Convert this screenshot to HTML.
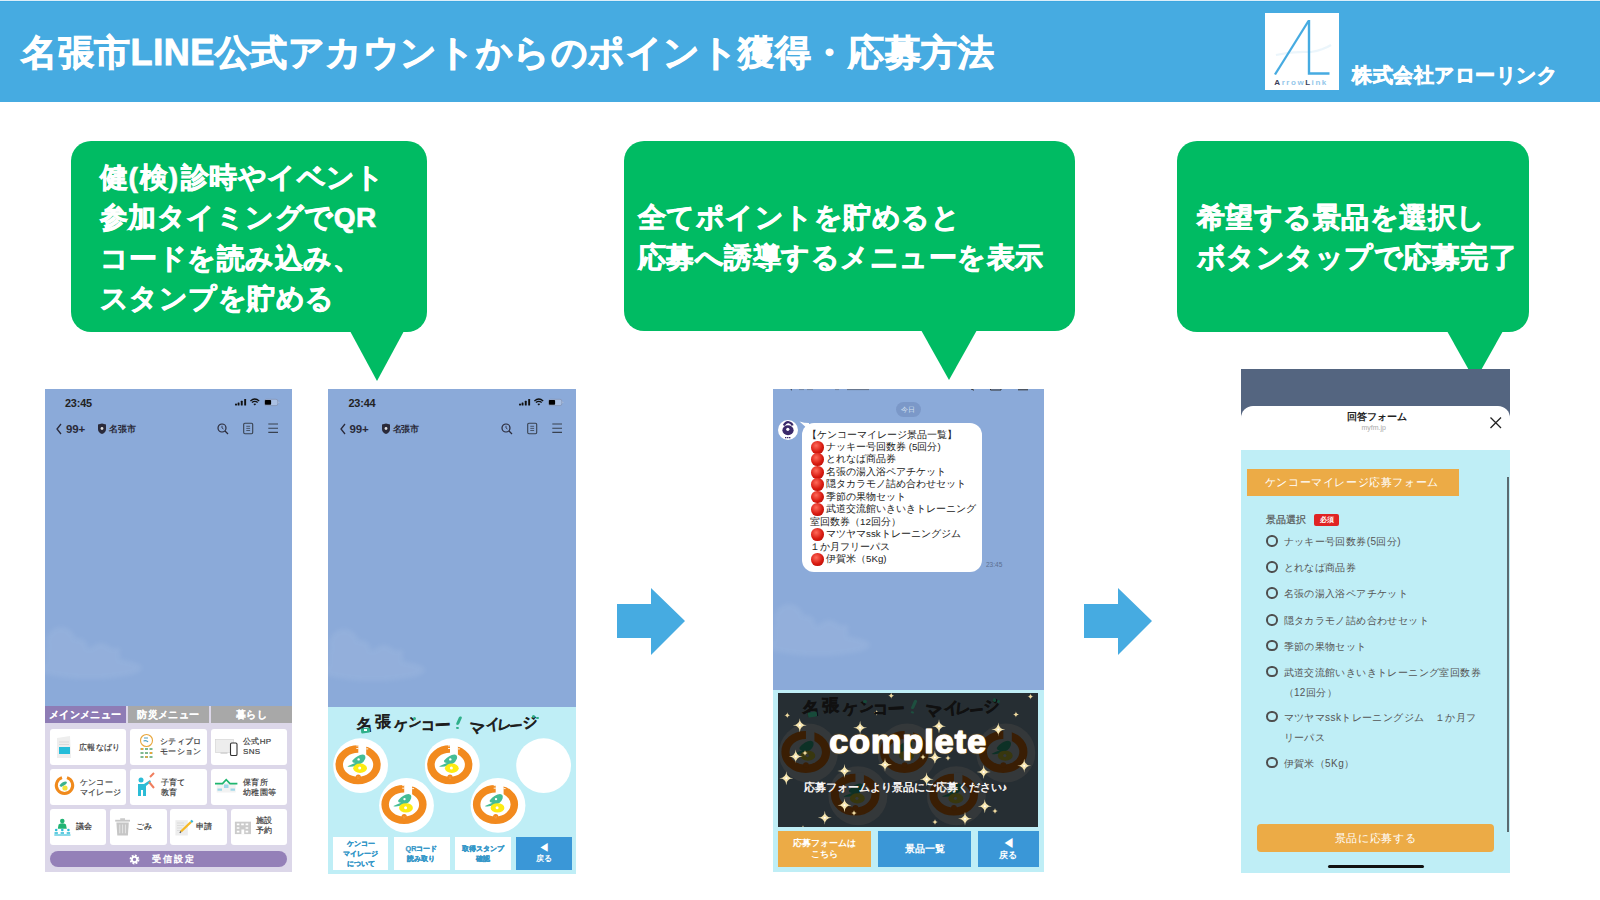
<!DOCTYPE html>
<html lang="ja">
<head>
<meta charset="utf-8">
<style>
*{margin:0;padding:0;box-sizing:border-box}
html,body{width:1600px;height:900px;overflow:hidden;background:#fff}
body{position:relative;font-family:"Liberation Sans",sans-serif}
.abs{position:absolute}
#hdr{left:0;top:0;width:1600px;height:102px;background:#46ABE1}
#title{left:21px;top:27px;font-size:36px;letter-spacing:0.54px;font-weight:bold;color:#fff;white-space:nowrap;line-height:52px;-webkit-text-stroke:0.9px #fff}
#logo{left:1265px;top:13px;width:74px;height:77px;background:#fff}
#corp{left:1352px;top:61px;font-size:20px;letter-spacing:0.5px;font-weight:bold;color:#fff;white-space:nowrap;line-height:28px;-webkit-text-stroke:0.7px #fff}
.bub{background:#00BB63;border-radius:20px}
.btxt{color:#fff;font-weight:bold;font-size:28px;letter-spacing:0.47px;line-height:40.5px;white-space:nowrap;-webkit-text-stroke:0.7px #fff}
.tail{width:0;height:0;border-style:solid;border-color:#00BB63 transparent transparent transparent}
.phone{background:#8BAAD9;overflow:hidden}

.s{position:absolute;white-space:nowrap}
.st{font-size:10px;font-weight:bold;color:#222;letter-spacing:-0.2px}
.tab{position:absolute;top:317px;height:17px;color:#fff;font-size:10px;font-weight:bold;text-align:center;line-height:17px;letter-spacing:0.3px;-webkit-text-stroke:0.1px #fff}
.card{position:absolute;background:#fff;border-radius:3px;height:36px}
.ct{position:absolute;font-size:8px;letter-spacing:0.35px;color:#3e3e3e;line-height:10px;white-space:nowrap;-webkit-text-stroke:0.2px #3e3e3e}


.btn{position:absolute;text-align:center;font-weight:bold;white-space:nowrap;display:flex;align-items:center;justify-content:center}
.hw{position:absolute;white-space:nowrap;font-weight:bold;color:#1d1d1d}
.rad{position:absolute;left:25px;width:11.5px;height:11.5px;border:2.1px solid #4e4e4e;border-radius:50%}
.rt{position:absolute;left:42.5px;font-size:10px;letter-spacing:0.4px;color:#555;line-height:20px;white-space:nowrap;margin-top:1.3px}
.rd{display:inline-block;width:12.6px;height:12.6px;border-radius:50%;background:radial-gradient(circle at 40% 35%,#ff6a5a,#D81A10 55%,#A80C05);vertical-align:top;margin-top:0px;margin-left:1.3px;margin-right:2.2px}
.msg div{height:12.47px;line-height:12.47px}
</style>
</head>
<body>
<svg width="0" height="0" style="position:absolute">
<defs>
 <filter id="blur1" x="-20%" y="-20%" width="140%" height="140%"><feGaussianBlur stdDeviation="2"/></filter>
 <g id="stamp">
  <ellipse cx="-2.5" cy="-1" rx="18.85" ry="15.75" fill="none" stroke="#F28A1E" stroke-width="7.5"/>
  <rect x="-2.3" y="-22" width="7.9" height="12" fill="#fff"/><path d="M-4.3 -19.8 h2.2 M-4.3 -17.2 h2.2 M5.6 -19.3 h2 M5.6 -16.8 h2" stroke="#fff" stroke-width="0.9"/>
  <path d="M-13 0.6 Q-9 -1.2 -5.5 -2.6 Q-9 -3 -8.2 -5.2 Q-3 -11 2 -11.3 Q5.6 -11 4.6 -7 Q3 -2 -4 -0.3 Q-9 1.6 -13 0.9 Z" fill="#45BD96"/>
  <circle cx="-2" cy="-6.3" r="1.2" fill="#fff"/>
  <ellipse cx="-0.5" cy="2.5" rx="6.9" ry="4.7" fill="#FDEB12"/><circle cx="-0.9" cy="2.4" r="1.5" fill="#fff"/>
  <circle cx="-2.3" cy="11.3" r="2.6" fill="#F28A1E"/><path d="M-3.6 11 h0.8 M-1.8 11 h0.8 M-3.4 12.4 h2.2" stroke="#F9B46A" stroke-width="0.5"/>
 </g>
 <g id="dstamp">
  <circle r="29.5" fill="#34383A"/>
  <g transform="scale(1.076)">
  <ellipse cx="-2.5" cy="-1" rx="18.85" ry="15.75" fill="none" stroke="#3A1E04" stroke-width="7.5"/><rect x="-2.3" y="-22" width="7.9" height="12" fill="#34383A"/>
  <path d="M-13 0.6 Q-9 -1.2 -5.5 -2.6 Q-9 -3 -8.2 -5.2 Q-3 -11 2 -11.3 Q5.6 -11 4.6 -7 Q3 -2 -4 -0.3 Q-9 1.6 -13 0.9 Z" fill="#0D3126"/>
  <ellipse cx="-0.5" cy="2.5" rx="6.9" ry="4.7" fill="#38370E"/><circle cx="-0.9" cy="2.4" r="1.5" fill="#34383A"/>
  <circle cx="-2.3" cy="11.3" r="2.6" fill="#3A1E04"/>
  </g>
 </g>
 <g id="spark"><circle r="3" fill="#F4D98A" opacity="0.3"/><path d="M0 -7 Q0.2 -0.2 7 0 Q0.2 0.2 0 7 Q-0.2 0.2 -7 0 Q-0.2 -0.2 0 -7 Z" fill="#F7E6B0"/><circle r="1" fill="#fff"/></g>
 <g id="sparks"><circle r="1.5" fill="#F4D98A" opacity="0.35"/><path d="M0 -3 Q0.25 -0.25 3 0 Q0.25 0.25 0 3 Q-0.25 0.25 -3 0 Q-0.25 -0.25 0 -3 Z" fill="#EED9A0"/></g>
</defs></svg>
<div id="hdr" class="abs"></div>
<div class="abs" style="left:0;top:0;width:1600px;height:1px;background:#DCEEF9"></div>
<div class="abs" style="left:0;top:1px;width:1600px;height:1px;background:#3DA7E0"></div>
<div id="title" class="abs">名張市LINE公式アカウントからのポイント獲得・応募方法</div>
<div id="logo" class="abs"></div>
<svg class="abs" style="left:1265px;top:13px" width="74" height="77" viewBox="0 0 74 77">
 <path d="M11 42 Q28 38 46 39 Q58 37 66 32" stroke="#E6F2FA" stroke-width="2.2" fill="none" opacity="0.8"/>
 <path d="M10 61.5 L43.5 8" stroke="#46ABE1" stroke-width="2.3" fill="none"/>
 <path d="M44 7 L44 60.5 L64.5 60.5" stroke="#46ABE1" stroke-width="2.4" fill="none" stroke-linejoin="miter"/>
 <text x="9.3" y="71.9" font-family="Liberation Sans" font-size="8" font-weight="bold" letter-spacing="1.55" fill="#94C7EA"><tspan fill="#3B3F5A">A</tspan>rrow<tspan fill="#3B3F5A">L</tspan>ink</text>
</svg>
<div id="corp" class="abs">株式会社アローリンク</div>

<!-- bubbles -->
<div class="abs bub" style="left:71px;top:141px;width:356px;height:191px"></div>
<div class="abs tail" style="left:350px;top:331px;border-width:50px 27px 0 27px"></div>
<div class="abs btxt" style="left:100px;top:157.5px">健<span style="letter-spacing:2.5px">(</span>検<span style="letter-spacing:2.5px">)</span>診時やイベント<br>参加タイミングでQR<br>コードを読み込み、<br>スタンプを貯める</div>

<div class="abs bub" style="left:624px;top:141px;width:451px;height:190px"></div>
<div class="abs tail" style="left:921px;top:330px;border-width:50px 28px 0 28px"></div>
<div class="abs btxt" style="left:638px;top:197.5px">全てポイントを貯めると<br>応募へ誘導するメニューを表示</div>

<div class="abs bub" style="left:1177px;top:141px;width:352px;height:191px"></div>
<div class="abs tail" style="left:1447px;top:331px;border-width:50px 28px 0 28px"></div>
<div class="abs btxt" style="left:1197px;top:197.5px">希望する景品を選択し<br>ボタンタップで応募完了</div>

<!-- phones -->
<div id="p1" class="abs phone" style="left:45px;top:389px;width:247px;height:483px">
 <svg class="s" style="left:0;top:229px" width="110" height="70" viewBox="0 0 110 70"><g fill="#fff" opacity="0.065" filter="url(#blur1)"><circle cx="16" cy="24" r="15"/><circle cx="33" cy="30" r="10"/><circle cx="56" cy="38" r="13"/><ellipse cx="45" cy="50" rx="52" ry="11"/><rect x="0" y="30" width="75" height="20"/></g></svg>
 <div class="s st" style="left:20px;top:8px;font-size:10.9px">23:45</div>
 <svg class="s" style="left:186px;top:9px" width="50" height="10" viewBox="0 0 50 10">
  <circle cx="5" cy="6.6" r="1.05" fill="#111"/><rect x="6.6" y="4.6" width="1.9" height="3" rx="0.5" fill="#111"/><rect x="9.8" y="2.8" width="1.9" height="4.8" rx="0.5" fill="#111"/><rect x="13.2" y="0.9" width="1.9" height="6.7" rx="0.5" fill="#111"/>
  <path d="M19.4 2.9 Q23.8 -0.9 28.2 2.9" stroke="#111" stroke-width="1.3" fill="none"/><path d="M20.9 4.6 Q23.8 2.2 26.7 4.6" stroke="#111" stroke-width="1.3" fill="none"/><path d="M22.4 6.1 L23.8 7.4 L25.2 6.1 Q23.8 4.9 22.4 6.1 Z" fill="#111"/>
  <rect x="33.5" y="1.3" width="13.3" height="6.3" rx="1.8" fill="#C9D6EE" fill-opacity="0.5" stroke="#7D8CA8" stroke-width="0.6"/><rect x="33.9" y="2" width="6.2" height="4.8" rx="0.8" fill="#000"/><path d="M47.2 3.3 L48.8 4.4 L47.2 5.5 Z" fill="#A9B8D4"/>
 </svg>
 <svg class="s" style="left:8px;top:33px" width="236" height="14" viewBox="0 0 236 14">
  <path d="M8 2 L4 7 L8 12" stroke="#2a2a3a" stroke-width="1.3" fill="none"/>
  <path d="M45 2.5 L49 1.5 L53 2.5 L53 7 Q53 10.5 49 12 Q45 10.5 45 7 Z" fill="#2a2a3a"/><circle cx="49" cy="6.5" r="1.4" fill="#ddd"/>
  <circle cx="169" cy="6" r="4" stroke="#2a2a3a" stroke-width="1.2" fill="none"/><path d="M172 9 L175 12" stroke="#2a2a3a" stroke-width="1.3"/><path d="M169 3.8 L169 6 L170.5 7" stroke="#2a2a3a" stroke-width="0.8" fill="none"/>
  <rect x="190.7" y="1.2" width="9" height="10.6" rx="1.2" stroke="#38414f" stroke-width="1.1" fill="none"/><path d="M193.3 4.3 H197.1 M193.3 6.4 H197.1 M193.3 8.5 H197.1" stroke="#38414f" stroke-width="0.8"/>
  <path d="M215.3 2 H225 M215.3 6.3 H225 M215.3 10.4 H225" stroke="#38414f" stroke-width="1.1"/>
 </svg>
 <div class="s st" style="left:21px;top:33.5px;font-size:11.5px;color:#2a2a3a">99+</div>
 <div class="s st" style="left:64px;top:34px;font-size:9px;color:#2a2a3a">名張市</div>
 <div class="abs" style="left:0;top:317px;width:247px;height:166px;background:#DCD7E9"></div>
 <div class="tab" style="left:0;width:80.5px;background:#8E7CB5">メインメニュー</div>
 <div class="tab" style="left:82.8px;width:81px;background:#A8A8A8">防災メニュー</div>
 <div class="tab" style="left:166.2px;width:80.8px;background:#A8A8A8">暮らし</div>
 <div class="card" style="left:5px;top:339.7px;width:76px"></div>
 <div class="card" style="left:85px;top:339.7px;width:76.7px"></div>
 <div class="card" style="left:165.5px;top:339.7px;width:76.5px"></div>
 <div class="card" style="left:5px;top:380px;width:76px"></div>
 <div class="card" style="left:85px;top:380px;width:76.7px"></div>
 <div class="card" style="left:165.5px;top:380px;width:76.5px"></div>
 <div class="card" style="left:5px;top:420px;width:55.8px"></div>
 <div class="card" style="left:65px;top:420px;width:56.6px"></div>
 <div class="card" style="left:125px;top:420px;width:56.8px"></div>
 <div class="card" style="left:185.5px;top:420px;width:56.5px"></div>
 <div class="abs" style="left:5px;top:461.5px;width:237px;height:16.5px;border-radius:9px;background:#9480B8"></div>
 <svg class="s" style="left:0;top:340.5px" width="247" height="153" viewBox="0 0 247 153">
  <!-- newspaper -->
  <path d="M12 8 L25 6 L26 28 L12 28 Z" fill="#EEE"/><rect x="14" y="17" width="11" height="7" fill="#25BDD9"/><path d="M14 12 H24 M14 14.5 H24" stroke="#ccc" stroke-width="0.6"/>
  <!-- city promo -->
  <circle cx="101.5" cy="10.5" r="6" fill="none" stroke="#E8A63B" stroke-width="1.1"/><path d="M99 8 h4 M98.5 11 q3 -1 4.5 1" stroke="#4F9FC0" stroke-width="1.2" fill="none"/><path d="M95.5 19 h3 M100 19 h3 M104.5 19 h3 M95.5 23 h3 M100 23 h3 M104.5 23 h3 M95.5 27 h3 M100 27 h3 M104.5 27 h3" stroke="#7DB88F" stroke-width="2"/><path d="M96 19 h2 M105 23 h2 M100.5 27 h2" stroke="#E8A63B" stroke-width="2"/>
  <!-- monitor -->
  <rect x="170.5" y="9.5" width="18" height="13" fill="#EDEDED" stroke="#D0D0D0" stroke-width="0.6"/><rect x="175.5" y="22.5" width="7" height="1.2" fill="#ccc"/><rect x="185.5" y="13" width="6.5" height="12.5" rx="1.3" fill="#fff" stroke="#333" stroke-width="1.1"/>
  <!-- kenko ring -->
  <path d="M17 47.6 A8.2 8.2 0 1 0 22 47.6" fill="none" stroke="#F08A1C" stroke-width="3"/><path d="M14.5 55.5 Q17 51.5 21 51.5 Q23 52.5 20.5 54.5 Q18 56 16 57 Z" fill="#3BB28C"/><circle cx="20" cy="58" r="2.6" fill="#F3E23A"/>
  <!-- kosodate -->
  <circle cx="96" cy="50" r="2.5" fill="#2BBCD6"/><path d="M93 54 h6 l6 -4 l1 2 l-5 4 v10 h-3 v-6 h-2 v6 h-3 z" fill="#2BBCD6"/><path d="M105 47 l4 -4 M104 52 l5 6" stroke="#F07E5E" stroke-width="2"/>
  <!-- hoikujo -->
  <rect x="171.7" y="53" width="19" height="9.5" fill="#F2F2F2"/><path d="M170 53.6 H177.5 L181.2 49.6 L185 53.6 H192.4" stroke="#1EB66F" stroke-width="1.6" fill="none"/><rect x="179" y="54.5" width="4.5" height="3.5" fill="#9ED8E8"/><rect x="172.5" y="58.5" width="4.5" height="2.2" fill="#9ED8E8"/><rect x="185.5" y="58.5" width="4.5" height="2.2" fill="#9ED8E8"/>
  <!-- gikai -->
  <circle cx="17.3" cy="91" r="2.3" fill="#20B473"/><path d="M12.8 98.8 h9 l-0.8 -4.3 q-3.7 -2.6 -7.4 0 z" fill="#20B473"/>
  <circle cx="11.2" cy="100" r="1.3" fill="#2BBCD6"/><circle cx="17.3" cy="100" r="1.3" fill="#2BBCD6"/><circle cx="23.4" cy="100" r="1.3" fill="#2BBCD6"/>
  <path d="M9.5 103 h3.4 M15.6 103 h3.4 M21.7 103 h3.4" stroke="#2BBCD6" stroke-width="1.6"/><path d="M9.3 105 H25.5" stroke="#2BBCD6" stroke-width="1.1"/>
  <!-- trash -->
  <rect x="70.2" y="89.8" width="14.8" height="1.8" fill="#C6C6C6"/><rect x="75.2" y="88.3" width="4.8" height="1.6" fill="#C6C6C6"/>
  <path d="M71.4 92.4 h12.4 l-0.9 13 h-10.6 z" fill="#C6C6C6"/><path d="M74.8 94.5 v8.8 M77.6 94.5 v8.8 M80.4 94.5 v8.8" stroke="#ECECEC" stroke-width="0.8"/>
  <!-- pencil doc -->
  <rect x="130.4" y="90.2" width="12.4" height="15.3" fill="#EDEDED"/><path d="M132 93 h7 M132 95.5 h7 M132 98 h5 M132 100.5 h4" stroke="#D0D0D0" stroke-width="0.6"/>
  <path d="M136 101.5 L146 92" stroke="#F6B826" stroke-width="2.4"/><path d="M146 92 L147.6 90.6" stroke="#3BB8D6" stroke-width="2.4"/><path d="M134.8 102.8 L136 101.5" stroke="#555" stroke-width="1.2"/>
  <!-- facility -->
  <rect x="189.9" y="91.7" width="16.1" height="12.4" fill="#CBCBCB"/><path d="M191.8 94.3 h2.6 M196.2 94.3 h2.6 M200.6 94.3 h2.6 M191.8 98 h2.6 M200.6 98 h2.6 M191.8 101.6 h2.6 M200.6 101.6 h2.6" stroke="#fff" stroke-width="1.7"/><rect x="196.4" y="99.5" width="2.8" height="4.6" fill="#fff"/>
  <!-- gear -->
  <circle cx="89.5" cy="129.5" r="3.6" fill="none" stroke="#fff" stroke-width="2.6" stroke-dasharray="1.7 1.1"/><circle cx="89.5" cy="129.5" r="2.6" fill="none" stroke="#fff" stroke-width="1.8"/>
 </svg>
 <div class="ct" style="left:34px;top:354px">広報なばり</div>
 <div class="ct" style="left:115px;top:348px">シティプロ<br>モーション</div>
 <div class="ct" style="left:198px;top:348px">公式HP<br>SNS</div>
 <div class="ct" style="left:34.5px;top:389px">ケンコー<br>マイレージ</div>
 <div class="ct" style="left:115.5px;top:389px">子育て<br>教育</div>
 <div class="ct" style="left:198px;top:389px">保育所<br>幼稚園等</div>
 <div class="ct" style="left:31px;top:433px">議会</div>
 <div class="ct" style="left:91px;top:433px">ごみ</div>
 <div class="ct" style="left:151px;top:433px">申請</div>
 <div class="ct" style="left:211px;top:427px">施設<br>予約</div>
 <div class="ct" style="left:106.5px;top:465px;color:#fff;letter-spacing:2.3px;font-size:9px;-webkit-text-stroke:0.45px #fff">受信設定</div>
</div>
<div id="p2" class="abs phone" style="left:328px;top:389px;width:248px;height:485px">
 <svg class="s" style="left:0;top:231px" width="110" height="70" viewBox="0 0 110 70"><g fill="#fff" opacity="0.065" filter="url(#blur1)"><circle cx="16" cy="24" r="15"/><circle cx="33" cy="30" r="10"/><circle cx="56" cy="38" r="13"/><ellipse cx="45" cy="50" rx="52" ry="11"/><rect x="0" y="30" width="75" height="20"/></g></svg>
 <div class="s st" style="left:20.5px;top:8px;font-size:10.9px">23:44</div>
 <svg class="s" style="left:187px;top:9px" width="50" height="10" viewBox="0 0 50 10">
  <circle cx="5" cy="6.6" r="1.05" fill="#111"/><rect x="6.6" y="4.6" width="1.9" height="3" rx="0.5" fill="#111"/><rect x="9.8" y="2.8" width="1.9" height="4.8" rx="0.5" fill="#111"/><rect x="13.2" y="0.9" width="1.9" height="6.7" rx="0.5" fill="#111"/>
  <path d="M19.4 2.9 Q23.8 -0.9 28.2 2.9" stroke="#111" stroke-width="1.3" fill="none"/><path d="M20.9 4.6 Q23.8 2.2 26.7 4.6" stroke="#111" stroke-width="1.3" fill="none"/><path d="M22.4 6.1 L23.8 7.4 L25.2 6.1 Q23.8 4.9 22.4 6.1 Z" fill="#111"/>
  <rect x="33.5" y="1.3" width="13.3" height="6.3" rx="1.8" fill="#C9D6EE" fill-opacity="0.5" stroke="#7D8CA8" stroke-width="0.6"/><rect x="33.9" y="2" width="6.2" height="4.8" rx="0.8" fill="#000"/><path d="M47.2 3.3 L48.8 4.4 L47.2 5.5 Z" fill="#A9B8D4"/>
 </svg>
 <svg class="s" style="left:8.5px;top:33px" width="236" height="14" viewBox="0 0 236 14">
  <path d="M8 2 L4 7 L8 12" stroke="#2a2a3a" stroke-width="1.3" fill="none"/>
  <path d="M45 2.5 L49 1.5 L53 2.5 L53 7 Q53 10.5 49 12 Q45 10.5 45 7 Z" fill="#2a2a3a"/><circle cx="49" cy="6.5" r="1.4" fill="#ddd"/>
  <circle cx="169" cy="6" r="4" stroke="#2a2a3a" stroke-width="1.2" fill="none"/><path d="M172 9 L175 12" stroke="#2a2a3a" stroke-width="1.3"/><path d="M169 3.8 L169 6 L170.5 7" stroke="#2a2a3a" stroke-width="0.8" fill="none"/>
  <rect x="190.7" y="1.2" width="9" height="10.6" rx="1.2" stroke="#38414f" stroke-width="1.1" fill="none"/><path d="M193.3 4.3 H197.1 M193.3 6.4 H197.1 M193.3 8.5 H197.1" stroke="#38414f" stroke-width="0.8"/>
  <path d="M215.3 2 H225 M215.3 6.3 H225 M215.3 10.4 H225" stroke="#38414f" stroke-width="1.1"/>
 </svg>
 <div class="s st" style="left:21.5px;top:33.5px;font-size:11.5px;color:#2a2a3a">99+</div>
 <div class="s st" style="left:64.5px;top:34px;font-size:9px;color:#2a2a3a">名張市</div>
 <div class="abs" style="left:0;top:318.3px;width:248px;height:167px;background:#BFEEF6"></div>
 <div class="s" style="left:25.9px;top:325.5px;width:20px;height:20px;line-height:20px;text-align:center;font-size:16px;font-weight:normal;color:#1d1d1d;-webkit-text-stroke:0.9px #1d1d1d;transform:rotate(-6deg)">名</div>
 <div class="s" style="left:44.5px;top:323.0px;width:20px;height:20px;line-height:20px;text-align:center;font-size:16px;font-weight:normal;color:#1d1d1d;-webkit-text-stroke:0.9px #1d1d1d;transform:rotate(0deg)">張</div>
 <div class="s" style="left:63.0px;top:326.0px;width:20px;height:20px;line-height:20px;text-align:center;font-size:14px;font-weight:normal;color:#1d1d1d;-webkit-text-stroke:0.9px #1d1d1d;transform:rotate(-10deg)">ケ</div>
 <div class="s" style="left:76.8px;top:324.0px;width:20px;height:20px;line-height:20px;text-align:center;font-size:13px;font-weight:normal;color:#1d1d1d;-webkit-text-stroke:0.9px #1d1d1d;transform:rotate(6deg)">ン</div>
 <div class="s" style="left:90.0px;top:326.0px;width:20px;height:20px;line-height:20px;text-align:center;font-size:14px;font-weight:normal;color:#1d1d1d;-webkit-text-stroke:0.9px #1d1d1d;transform:rotate(0deg)">コ</div>
 <div class="s" style="left:104.7px;top:327.0px;width:20px;height:20px;line-height:20px;text-align:center;font-size:16px;font-weight:normal;color:#1d1d1d;-webkit-text-stroke:0.9px #1d1d1d;transform:rotate(-3deg)">ー</div>
 <div class="s" style="left:125.0px;top:326.0px;width:10px;height:16px;transform:rotate(12deg) scale(1.00)"><b style="display:block;width:2.8px;height:9px;background:#2FB08A;border-radius:1.5px;margin:1px auto 0;transform:skewX(-12deg)"></b><b style="display:block;width:2.8px;height:2.8px;background:#2FB08A;border-radius:50%;margin:1.5px auto 0 4px"></b></div>
 <div class="s" style="left:138.7px;top:329.0px;width:20px;height:20px;line-height:20px;text-align:center;font-size:16px;font-weight:normal;color:#1d1d1d;-webkit-text-stroke:0.9px #1d1d1d;transform:rotate(10deg)">マ</div>
 <div class="s" style="left:154.8px;top:325.0px;width:20px;height:20px;line-height:20px;text-align:center;font-size:15px;font-weight:normal;color:#1d1d1d;-webkit-text-stroke:0.9px #1d1d1d;transform:rotate(-6deg)">イ</div>
 <div class="s" style="left:166.0px;top:326.0px;width:20px;height:20px;line-height:20px;text-align:center;font-size:14px;font-weight:normal;color:#1d1d1d;-webkit-text-stroke:0.9px #1d1d1d;transform:rotate(6deg)">レ</div>
 <div class="s" style="left:178.0px;top:327.0px;width:20px;height:20px;line-height:20px;text-align:center;font-size:13px;font-weight:normal;color:#1d1d1d;-webkit-text-stroke:0.9px #1d1d1d;transform:rotate(-6deg)">ー</div>
 <div class="s" style="left:192.0px;top:323.0px;width:20px;height:20px;line-height:20px;text-align:center;font-size:15px;font-weight:normal;color:#1d1d1d;-webkit-text-stroke:0.9px #1d1d1d;transform:rotate(-6deg)">ジ</div>
 
 <div class="s" style="left:33px;top:338.5px;width:8.5px;height:5px;background:#2FB08A;transform:rotate(-8deg);border-radius:1px"></div><div class="s" style="left:36px;top:339.8px;width:3px;height:2.2px;background:#fff"></div><div class="s" style="left:84.5px;top:327.5px;width:3px;height:3px;background:#2FB08A;border-radius:50%"></div><div class="s" style="left:204px;top:326px;width:3px;height:3px;background:#2FB08A;border-radius:50%"></div><div class="s" style="left:208px;top:327.5px;width:2.6px;height:2.6px;background:#2FB08A;border-radius:50%"></div>
 <svg class="s" style="left:0;top:318.3px" width="248" height="167" viewBox="0 0 248 167">
  <circle cx="32.6" cy="58.7" r="27.4" fill="#fff"/><use href="#stamp" x="32.6" y="58.7"/>
  <circle cx="124.3" cy="58.7" r="27.4" fill="#fff"/><use href="#stamp" x="124.3" y="58.7"/>
  <circle cx="215.6" cy="58.7" r="27.4" fill="#fff"/>
  <circle cx="78.5" cy="98.4" r="27.4" fill="#fff"/><use href="#stamp" x="78.5" y="98.4"/>
  <circle cx="170" cy="98.4" r="27.4" fill="#fff"/><use href="#stamp" x="170" y="98.4"/>
 </svg>
 <div class="btn" style="left:4.7px;top:448.2px;width:55.7px;height:32.6px;background:#fff;color:#3597C8;font-size:7.3px;line-height:9.8px;padding-top:1px;-webkit-text-stroke:0.25px #3597C8">ケンコー<br>マイレージ<br>について</div>
 <div class="btn" style="left:65.5px;top:448.2px;width:56px;height:32.6px;background:#fff;color:#3597C8;font-size:7.3px;line-height:9.8px;padding-top:1px;-webkit-text-stroke:0.25px #3597C8">QRコード<br>読み取り</div>
 <div class="btn" style="left:126.5px;top:448.2px;width:56px;height:32.6px;background:#fff;color:#3597C8;font-size:7.3px;line-height:9.8px;padding-top:1px;-webkit-text-stroke:0.25px #3597C8">取得スタンプ<br>確認</div>
 <div class="btn" style="left:187.5px;top:448.2px;width:56px;height:32.6px;background:#3A97D7;color:#fff;font-size:7.5px;line-height:10px"><span><span style="font-size:10px">◀</span><br>戻る</span></div>
</div>
<div id="p3" class="abs phone" style="left:773px;top:389px;width:271px;height:483px">
 <div class="abs" style="left:0;top:0;width:271px;height:1.5px"><svg width="271" height="2" viewBox="0 0 271 2" style="display:block"><path d="M17.5 0 L19 1.2" stroke="#333" stroke-width="1"/><path d="M26 0.6 h5 M34 0.6 h6 M62 0.6 h4" stroke="#555" stroke-width="0.8" opacity="0.5"/><path d="M74 0.6 h22" stroke="#444" stroke-width="0.9" opacity="0.6"/><path d="M198 0 L201 1.2" stroke="#333" stroke-width="1"/><path d="M217.5 0 v1 h10.5 v-1" stroke="#333" stroke-width="1" fill="none"/><path d="M245 0.8 h10" stroke="#333" stroke-width="1"/></svg></div>
 <svg class="s" style="left:0;top:206px" width="110" height="70" viewBox="0 0 110 70"><g fill="#fff" opacity="0.065" filter="url(#blur1)"><circle cx="16" cy="24" r="15"/><circle cx="33" cy="30" r="10"/><circle cx="56" cy="38" r="13"/><ellipse cx="45" cy="50" rx="52" ry="11"/><rect x="0" y="30" width="75" height="20"/></g></svg>
 <div class="abs" style="left:122.7px;top:12.8px;width:25.5px;height:15.4px;border-radius:8px;background:#7B98C8;color:#d5e0f0;font-size:7px;line-height:15.4px;text-align:center">今日</div>
 <div class="abs" style="left:5px;top:30.7px;width:20px;height:20px;border-radius:50%;background:#fff"></div>
 <svg class="s" style="left:5px;top:30.7px" width="20" height="20" viewBox="0 0 20 20">
  <ellipse cx="10" cy="10.2" rx="5.6" ry="5" fill="#3B2A6A"/><circle cx="9.8" cy="9.3" r="1.6" fill="#fff"/>
  <path d="M5.8 5.6 Q8 1.2 11 2.2 Q14 3 14.5 5.5" stroke="#3B2A6A" stroke-width="2.2" fill="none"/>
  <path d="M7 17.6 h6" stroke="#3B2A6A" stroke-width="1.1" stroke-dasharray="1.4 0.6"/>
 </svg>
 <div class="abs" style="left:28.7px;top:34px;width:180.3px;height:149px;border-radius:12px;background:#fff"></div>
 <svg class="s" style="left:24px;top:31px" width="12" height="10" viewBox="0 0 12 10"><path d="M2.5 1.5 Q7 3 12 3 L12 10 Z" fill="#fff"/></svg>
 <div class="abs msg" style="left:37px;top:39.5px;font-size:9.7px;line-height:12.47px;color:#222;white-space:nowrap"><div style="margin-left:-2.7px">【ケンコーマイレージ景品一覧】</div><div><span class="rd"></span>ナッキー号回数券 (5回分)</div><div><span class="rd"></span>とれなば商品券</div><div><span class="rd"></span>名張の湯入浴ペアチケット</div><div><span class="rd"></span>隠タカラモノ詰め合わせセット</div><div><span class="rd"></span>季節の果物セット</div><div><span class="rd"></span>武道交流館いきいきトレーニング</div><div>室回数券（12回分）</div><div><span class="rd"></span>マツヤマsskトレーニングジム</div><div>１か月フリーパス</div><div><span class="rd"></span>伊賀米（5Kg)</div></div>
 <div class="abs" style="left:213px;top:172px;font-size:6.5px;color:#5b6f90">23:45</div>
 <div class="abs" style="left:0;top:301px;width:271px;height:182px;background:#BFEEF6"></div>
 <div class="abs" style="left:5.2px;top:304.2px;width:260.2px;height:133.7px;background:#262E33;overflow:hidden">
  <svg class="s" style="left:0;top:0" width="261" height="134" viewBox="0 0 261 134">
   <use href="#dstamp" x="30.4" y="60.0"/><use href="#dstamp" x="129.1" y="60.0"/><use href="#dstamp" x="227.8" y="60.0"/><use href="#dstamp" x="79.9" y="102.7"/><use href="#dstamp" x="178.4" y="102.7"/>
   <use href="#spark" x="21.8" y="32.2"/><use href="#spark" x="82.1" y="34.7"/><use href="#spark" x="161.0" y="33.2"/><use href="#spark" x="220.3" y="36.4"/><use href="#spark" x="17.7" y="63.4"/><use href="#spark" x="66.5" y="77.9"/><use href="#spark" x="107.0" y="71.7"/><use href="#spark" x="156.9" y="64.4"/><use href="#spark" x="148.6" y="86.2"/><use href="#spark" x="205.7" y="79.0"/><use href="#spark" x="246.2" y="72.8"/><use href="#spark" x="8.3" y="85.2"/><use href="#spark" x="66.5" y="112.2"/><use href="#spark" x="46.8" y="124.7"/><use href="#spark" x="206.8" y="113.2"/><use href="#spark" x="187.0" y="125.8"/><use href="#sparks" x="113.2" y="2.7"/><use href="#sparks" x="252.5" y="3.5"/><use href="#sparks" x="9.3" y="22.2"/><use href="#sparks" x="237.9" y="21.4"/><use href="#sparks" x="98.7" y="19.8"/><use href="#sparks" x="27.0" y="60.0"/><use href="#sparks" x="76.0" y="120.0"/><use href="#sparks" x="25.0" y="135.0"/><use href="#sparks" x="217.0" y="118.0"/><use href="#sparks" x="145.0" y="64.0"/><use href="#sparks" x="170.0" y="65.0"/><use href="#sparks" x="157.0" y="129.0"/>
  </svg>
  <div class="s" style="left:22.6px;top:5.5px;width:20px;height:20px;line-height:20px;text-align:center;font-size:17px;font-weight:bold;color:#101010;-webkit-text-stroke:0.6px #101010;transform:rotate(-6deg)">名</div>
 <div class="s" style="left:42.8px;top:2.8px;width:20px;height:20px;line-height:20px;text-align:center;font-size:17px;font-weight:bold;color:#101010;-webkit-text-stroke:0.6px #101010;transform:rotate(0deg)">張</div>
 <div class="s" style="left:62.9px;top:6.1px;width:20px;height:20px;line-height:20px;text-align:center;font-size:15px;font-weight:bold;color:#101010;-webkit-text-stroke:0.6px #101010;transform:rotate(-10deg)">ケ</div>
 <div class="s" style="left:77.8px;top:3.9px;width:20px;height:20px;line-height:20px;text-align:center;font-size:14px;font-weight:bold;color:#101010;-webkit-text-stroke:0.6px #101010;transform:rotate(6deg)">ン</div>
 <div class="s" style="left:92.2px;top:6.1px;width:20px;height:20px;line-height:20px;text-align:center;font-size:15px;font-weight:bold;color:#101010;-webkit-text-stroke:0.6px #101010;transform:rotate(0deg)">コ</div>
 <div class="s" style="left:108.1px;top:7.1px;width:20px;height:20px;line-height:20px;text-align:center;font-size:17px;font-weight:bold;color:#101010;-webkit-text-stroke:0.6px #101010;transform:rotate(-3deg)">ー</div>
 <div class="s" style="left:129.7px;top:5.9px;width:10px;height:16px;transform:rotate(12deg) scale(1.08)"><b style="display:block;width:2.8px;height:9px;background:#1E4F3F;border-radius:1.5px;margin:1px auto 0;transform:skewX(-12deg)"></b><b style="display:block;width:2.8px;height:2.8px;background:#1E4F3F;border-radius:50%;margin:1.5px auto 0 4px"></b></div>
 <div class="s" style="left:145.0px;top:9.3px;width:20px;height:20px;line-height:20px;text-align:center;font-size:17px;font-weight:bold;color:#101010;-webkit-text-stroke:0.6px #101010;transform:rotate(10deg)">マ</div>
 <div class="s" style="left:162.5px;top:5.0px;width:20px;height:20px;line-height:20px;text-align:center;font-size:16px;font-weight:bold;color:#101010;-webkit-text-stroke:0.6px #101010;transform:rotate(-6deg)">イ</div>
 <div class="s" style="left:174.6px;top:6.1px;width:20px;height:20px;line-height:20px;text-align:center;font-size:15px;font-weight:bold;color:#101010;-webkit-text-stroke:0.6px #101010;transform:rotate(6deg)">レ</div>
 <div class="s" style="left:187.6px;top:7.1px;width:20px;height:20px;line-height:20px;text-align:center;font-size:14px;font-weight:bold;color:#101010;-webkit-text-stroke:0.6px #101010;transform:rotate(-6deg)">ー</div>
 <div class="s" style="left:202.8px;top:2.8px;width:20px;height:20px;line-height:20px;text-align:center;font-size:16px;font-weight:bold;color:#101010;-webkit-text-stroke:0.6px #101010;transform:rotate(-6deg)">ジ</div>
  <div class="s" style="left:29.5px;top:18.8px;width:9.2px;height:5.4px;background:#174A3A;border-radius:1px;transform:rotate(-8deg)"></div><div class="s" style="left:85.3px;top:6.8px;width:3.3px;height:3.3px;background:#174A3A;border-radius:50%;transform:rotate(0deg)"></div><div class="s" style="left:215.0px;top:5.2px;width:3.3px;height:3.3px;background:#174A3A;border-radius:50%;transform:rotate(0deg)"></div><div class="s" style="left:219.3px;top:6.8px;width:2.8px;height:2.8px;background:#174A3A;border-radius:50%;transform:rotate(0deg)"></div>
  <div id="cmp" class="abs" style="left:51px;top:26px;font-size:34px;line-height:44px;font-weight:bold;color:#fff;letter-spacing:1.1px;-webkit-text-stroke:1.2px #fff;text-shadow:0 0 1.5px #F3A52A,0 0 1.5px #F3A52A,0 0 1px #F3A52A,0 0 1px #F3A52A">complete</div>
  <div class="abs" style="left:25.5px;top:87.5px;font-size:10.7px;color:#fff;white-space:nowrap;-webkit-text-stroke:0.4px #fff;text-shadow:0 0 1px #3a1a10">応募フォームより景品にご応募ください♪</div>
 </div>
 <div class="btn" style="left:5.2px;top:442.4px;width:92.8px;height:35.8px;background:#ECAB46;color:#fff;font-size:9.3px;line-height:11px">応募フォームは<br>こちら</div>
 <div class="btn" style="left:105px;top:442.4px;width:93px;height:35.8px;background:#3A97D7;color:#fff;font-size:9.5px">景品一覧</div>
 <div class="btn" style="left:204.8px;top:442.4px;width:61px;height:35.8px;background:#3A97D7;color:#fff;font-size:9.3px;line-height:11px"><span><span style="font-size:11px">◀</span><br>戻る</span></div>
</div>
<div id="p4" class="abs phone" style="left:1241px;top:369px;width:269px;height:504px;background:#BFEEF6">
 <div class="abs" style="left:0;top:0;width:269px;height:60px;background:#546580"></div>
 <div class="abs" style="left:0;top:37px;width:269px;height:44px;background:#fff;border-radius:12px 12px 0 0"></div>
 <div class="abs" style="left:105.5px;top:42px;font-size:9.7px;font-weight:bold;color:#222;white-space:nowrap">回答フォーム</div>
 <div class="abs" style="left:120.5px;top:55px;font-size:7px;color:#aaa;white-space:nowrap">myfm.jp</div>
 <svg class="s" style="left:248px;top:47px" width="14" height="14" viewBox="0 0 14 14"><path d="M1.5 1.5 L12 12 M12 1.5 L1.5 12" stroke="#222" stroke-width="1.3"/></svg>
 <div class="abs" style="left:5.8px;top:100px;width:212.2px;height:27.4px;background:#ECAB46;color:#fff;font-size:11px;letter-spacing:0.6px;line-height:27.4px;padding-left:18px;white-space:nowrap">ケンコーマイレージ応募フォーム</div>
 <div class="abs" style="left:265.5px;top:108px;width:2px;height:355px;background:#5a6a70"></div>
 <div class="abs" style="left:25px;top:144.5px;font-size:9.7px;color:#555;white-space:nowrap;-webkit-text-stroke:0.2px #555">景品選択</div>
 <div class="abs" style="left:73.4px;top:144.8px;width:24.6px;height:11.8px;background:#E02424;border-radius:2px;color:#fff;font-size:7px;line-height:11.8px;text-align:center;font-weight:bold">必須</div>
 <div class="rad" style="top:166.0px"></div>
 <div class="rt" style="top:162.0px">ナッキー号回数券(5回分)</div>
 <div class="rad" style="top:192.0px"></div>
 <div class="rt" style="top:188.0px">とれなば商品券</div>
 <div class="rad" style="top:218.0px"></div>
 <div class="rt" style="top:214.0px">名張の湯入浴ペアチケット</div>
 <div class="rad" style="top:245.0px"></div>
 <div class="rt" style="top:241.0px">隠タカラモノ詰め合わせセット</div>
 <div class="rad" style="top:270.5px"></div>
 <div class="rt" style="top:266.5px">季節の果物セット</div>
 <div class="rad" style="top:296.5px"></div>
 <div class="rt" style="top:292.5px">武道交流館いきいきトレーニング室回数券<br>（12回分）</div>
 <div class="rad" style="top:341.9px"></div>
 <div class="rt" style="top:337.9px">マツヤマsskトレーニングジム　１か月フ<br>リーパス</div>
 <div class="rad" style="top:387.5px"></div>
 <div class="rt" style="top:383.5px">伊賀米（5Kg）</div>

 <div class="abs" style="left:16px;top:454.6px;width:237px;height:28.8px;background:#ECAB46;border-radius:4px;color:#fff;font-size:11px;letter-spacing:0.7px;line-height:28.8px;text-align:center">景品に応募する</div>
 <div class="abs" style="left:86.5px;top:495.5px;width:96px;height:3.5px;background:#111;border-radius:2px"></div>
</div>

<!-- arrows -->
<svg class="abs" style="left:0;top:0" width="1600" height="900">
<polygon points="617,604 651,604 651,588 685,621 651,655 651,638 617,638" fill="#46ABE1"/>
<polygon points="1084,604 1118,604 1118,588 1152,621 1118,655 1118,638 1084,638" fill="#46ABE1"/>
</svg>
</body>
</html>
